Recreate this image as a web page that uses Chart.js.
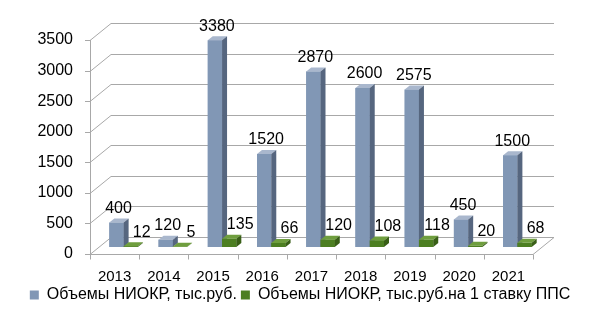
<!DOCTYPE html>
<html>
<head>
<meta charset="utf-8">
<script src="https://cdn.jsdelivr.net/npm/chart.js@4"></script>
<style>
  html, body { margin: 0; padding: 0; background: #fff; }
  #wrap { width: 600px; height: 313px; }
</style>
</head>
<body>
<div id="wrap"><canvas id="chart"></canvas></div>
<script>
// данные
const years = ['2013', '2014', '2015', '2016', '2017', '2018', '2019', '2020', '2021'];
const niokr = [400, 120, 3380, 1520, 2870, 2600, 2575, 450, 1500];
const niokrPerRate = [12, 5, 135, 66, 120, 108, 118, 20, 68];
const seriesNames = ['Объемы НИОКР, тыс.руб.', 'Объемы НИОКР, тыс.руб.на 1 ставку ППС'];
const yMax = 3500;
const yStep = 500;

// псевдо-3D: смещения передней и задней плоскости
const FRONT = { dx: -9, dy: 7 };
const BACK = { dx: 12, dy: -10 };
const DEPTH = { dx: 5, dy: -4 };
const FONT = "'Liberation Sans', Arial, sans-serif";

const faces = [
  { front: '#8197b5', top: '#a9b7cd', side: '#56667f' },
  { front: '#4d7f22', top: '#6f9e3e', side: '#395f17' },
];

const wallPlugin = {
  id: 'wall',
  beforeDatasetsDraw(chart) {
    const { ctx, chartArea: a, scales } = chart;
    const ys = scales.y;
    ctx.save();
    ctx.strokeStyle = '#a8a8a8';
    ctx.lineWidth = 1;
    ctx.beginPath();
    ys.ticks.forEach((t) => {
      const y = Math.round(ys.getPixelForValue(t.value)) + 0.5;
      ctx.moveTo(a.left + BACK.dx, y + BACK.dy);
      ctx.lineTo(a.right + BACK.dx, y + BACK.dy);
      ctx.moveTo(a.left + FRONT.dx, y + FRONT.dy);
      ctx.lineTo(a.left + BACK.dx, y + BACK.dy);
      ctx.moveTo(a.left + FRONT.dx - 5, y + FRONT.dy);
      ctx.lineTo(a.left + FRONT.dx, y + FRONT.dy);
    });
    const fx = Math.round(a.left + FRONT.dx) + 0.5;
    ctx.moveTo(fx, Math.round(a.top) + FRONT.dy);
    ctx.lineTo(fx, Math.round(a.bottom) + FRONT.dy + 0.5);
    // пол
    const fy = Math.round(a.bottom) + FRONT.dy + 0.5;
    ctx.moveTo(a.left + FRONT.dx, fy);
    ctx.lineTo(a.right + FRONT.dx, fy);
    ctx.lineTo(a.right + BACK.dx, Math.round(a.bottom) + BACK.dy + 0.5);
    const n = years.length;
    for (let i = 0; i <= n; i++) {
      const x = Math.round(a.left + (i * (a.right - a.left)) / n + FRONT.dx) + 0.5;
      ctx.moveTo(x, fy);
      ctx.lineTo(x, fy + 5);
    }
    ctx.stroke();
    ctx.restore();
  },
  afterDatasetsDraw(chart) {
    const { ctx } = chart;
    ctx.save();
    chart.data.datasets.forEach((ds, di) => {
      const meta = chart.getDatasetMeta(di);
      const c = faces[di];
      meta.data.forEach((bar) => {
        const { x, y, base, width } = bar.getProps(['x', 'y', 'base', 'width'], true);
        const l = x - width / 2;
        const r = x + width / 2;
        ctx.fillStyle = c.front;
        ctx.fillRect(l, y, width, base - y);
        ctx.fillStyle = c.top;
        ctx.beginPath();
        ctx.moveTo(l, y);
        ctx.lineTo(l + DEPTH.dx, y + DEPTH.dy);
        ctx.lineTo(r + DEPTH.dx, y + DEPTH.dy);
        ctx.lineTo(r, y);
        ctx.closePath();
        ctx.fill();
        ctx.fillStyle = c.side;
        ctx.beginPath();
        ctx.moveTo(r, y);
        ctx.lineTo(r + DEPTH.dx, y + DEPTH.dy);
        ctx.lineTo(r + DEPTH.dx, base + DEPTH.dy);
        ctx.lineTo(r, base);
        ctx.closePath();
        ctx.fill();
      });
    });
    // подписи значений
    ctx.fillStyle = '#000';
    ctx.font = '16px ' + FONT;
    ctx.textAlign = 'center';
    ctx.textBaseline = 'bottom';
    chart.data.datasets.forEach((ds, di) => {
      const meta = chart.getDatasetMeta(di);
      meta.data.forEach((bar, i) => {
        const { x, y } = bar.getProps(['x', 'y'], true);
        const shift = di === 0 ? 2 : 11;
        ctx.fillText(String(ds.data[i]), x + shift, y - 6);
      });
    });
    ctx.restore();
  },
};

new Chart(document.getElementById('chart'), {
  type: 'bar',
  data: {
    labels: years,
    datasets: [
      { label: seriesNames[0], data: niokr, backgroundColor: faces[0].front, borderWidth: 0 },
      { label: seriesNames[1], data: niokrPerRate, backgroundColor: faces[1].front, borderWidth: 0 },
    ],
  },
  options: {
    responsive: true,
    maintainAspectRatio: false,
    animation: false,
    layout: { padding: { left: 0, right: 0, top: 33, bottom: 0 } },
    datasets: { bar: { categoryPercentage: 0.58, barPercentage: 1 } },
    plugins: {
      tooltip: { enabled: false },
      legend: {
        position: 'bottom',
        labels: {
          boxWidth: 9,
          boxHeight: 9,
          padding: 4,
          color: '#000',
          font: { family: FONT, size: 16 },
        },
      },
    },
    scales: {
      y: {
        min: 0,
        max: yMax,
        grid: { display: false },
        border: { display: false },
        afterFit(scale) { scale.width = 99; },
        ticks: {
          stepSize: yStep,
          padding: 18,
          labelOffset: 7,
          color: '#000',
          font: { family: FONT, size: 16 },
          callback: (v) => String(v),
        },
      },
      // пустая правая ось — место под правый край «стенки»
      yRight: {
        position: 'right',
        grid: { display: false },
        border: { display: false },
        ticks: { display: false },
        afterFit(scale) { scale.width = 58; },
      },
      x: {
        grid: { display: false },
        border: { display: false },
        afterFit(scale) { scale.height = 36; },
        ticks: {
          padding: 13,
          labelOffset: -9,
          maxRotation: 0,
          color: '#000',
          font: { family: FONT, size: 15 },
        },
      },
    },
  },
  plugins: [wallPlugin],
});
</script>
</body>
</html>
